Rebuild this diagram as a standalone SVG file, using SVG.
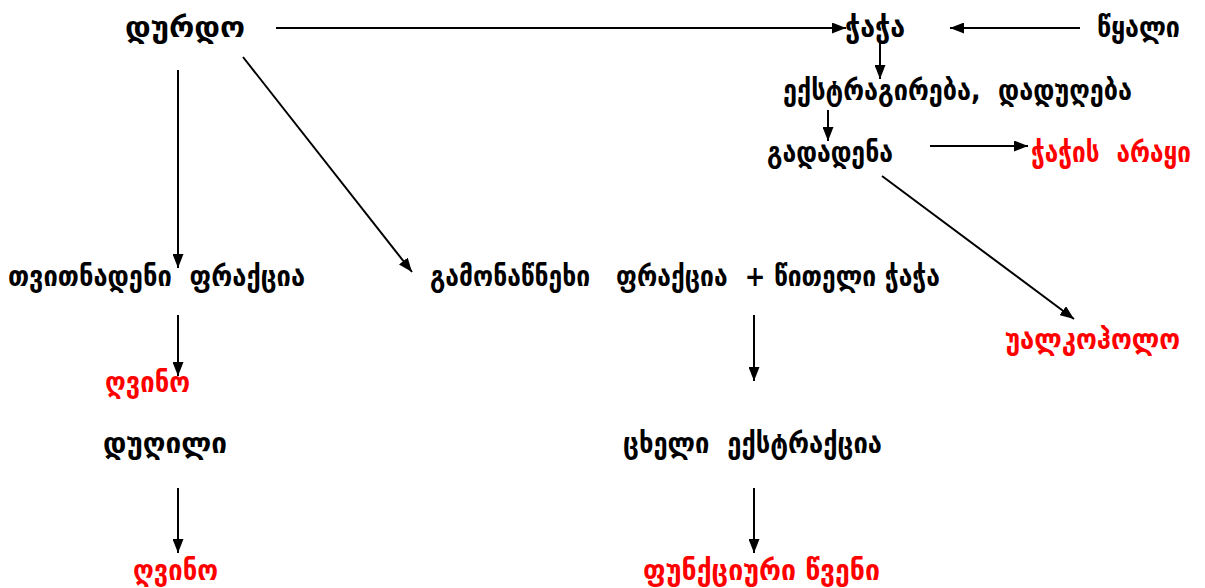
<svg xmlns="http://www.w3.org/2000/svg" width="1205" height="588" viewBox="0 0 1205 588">
<style>
text{font-family:"DejaVu Sans",sans-serif;font-size:28px;font-weight:bold;fill:#000;white-space:pre}
.r{fill:#ff0000}
.c line{stroke:#000;stroke-width:2;marker-end:url(#a)}
</style>
<defs>
<marker id="a" viewBox="0 0 14 11" refX="14" refY="5.5" markerWidth="14" markerHeight="11" markerUnits="userSpaceOnUse" orient="auto">
<path d="M0,0 L14,5.5 L0,11 Z" fill="#000"/>
</marker>
</defs>
<rect width="1205" height="588" fill="#fff"/>
<g class="c">
<line x1="276" y1="28" x2="846" y2="28"/>
<line x1="1080" y1="28" x2="950" y2="28"/>
<line x1="880" y1="40" x2="880" y2="79"/>
<line x1="828" y1="110" x2="828" y2="141"/>
<line x1="930" y1="146" x2="1028" y2="146"/>
<line x1="882" y1="176" x2="1074" y2="319"/>
<line x1="178" y1="70" x2="178" y2="268"/>
<line x1="243" y1="57" x2="412" y2="272"/>
<line x1="178" y1="315" x2="178" y2="376"/>
<line x1="754" y1="315" x2="754" y2="381"/>
<line x1="178" y1="488" x2="178" y2="553"/>
<line x1="754" y1="488" x2="754" y2="553"/>
</g>
<g id="n1"><text x="125" y="37" textLength="120" lengthAdjust="spacingAndGlyphs">დურდო</text></g>
<g id="n2"><text x="845" y="37" textLength="60" lengthAdjust="spacingAndGlyphs">ჭაჭა</text></g>
<g id="n3"><text x="1097" y="37" textLength="83" lengthAdjust="spacingAndGlyphs">წყალი</text></g>
<g id="n4"><text x="783" y="100" textLength="349" lengthAdjust="spacingAndGlyphs">ექსტრაგირება,  დადუღება</text></g>
<g id="n5"><text x="767" y="162" textLength="126" lengthAdjust="spacingAndGlyphs">გადადენა</text></g>
<g id="n6"><text class="r" transform="matrix(0.7,0,0,1,1031,162)" x="0" y="0" textLength="228.6" lengthAdjust="spacingAndGlyphs">ჭაჭის  არაყი</text></g>
<g id="n7"><text x="8" y="286" textLength="297" lengthAdjust="spacingAndGlyphs">თვითნადენი  ფრაქცია</text></g>
<g id="n8"><text x="430" y="286" textLength="510" lengthAdjust="spacingAndGlyphs">გამონაწნეხი   ფრაქცია  + წითელი ჭაჭა</text></g>
<g id="n9"><text class="r" x="1005" y="349" textLength="175" lengthAdjust="spacingAndGlyphs">უალკოჰოლო</text></g>
<g id="n10"><text class="r" x="105" y="392" textLength="85" lengthAdjust="spacingAndGlyphs">ღვინო</text></g>
<g id="n11"><text x="103" y="453" textLength="124" lengthAdjust="spacingAndGlyphs">დუღილი</text></g>
<g id="n12"><text x="623" y="453" textLength="259" lengthAdjust="spacingAndGlyphs">ცხელი  ექსტრაქცია</text></g>
<g id="n13"><text class="r" x="133" y="580" textLength="85" lengthAdjust="spacingAndGlyphs">ღვინო</text></g>
<g id="n14"><text class="r" x="643" y="580" textLength="237" lengthAdjust="spacingAndGlyphs">ფუნქციური წვენი</text></g>
</svg>
